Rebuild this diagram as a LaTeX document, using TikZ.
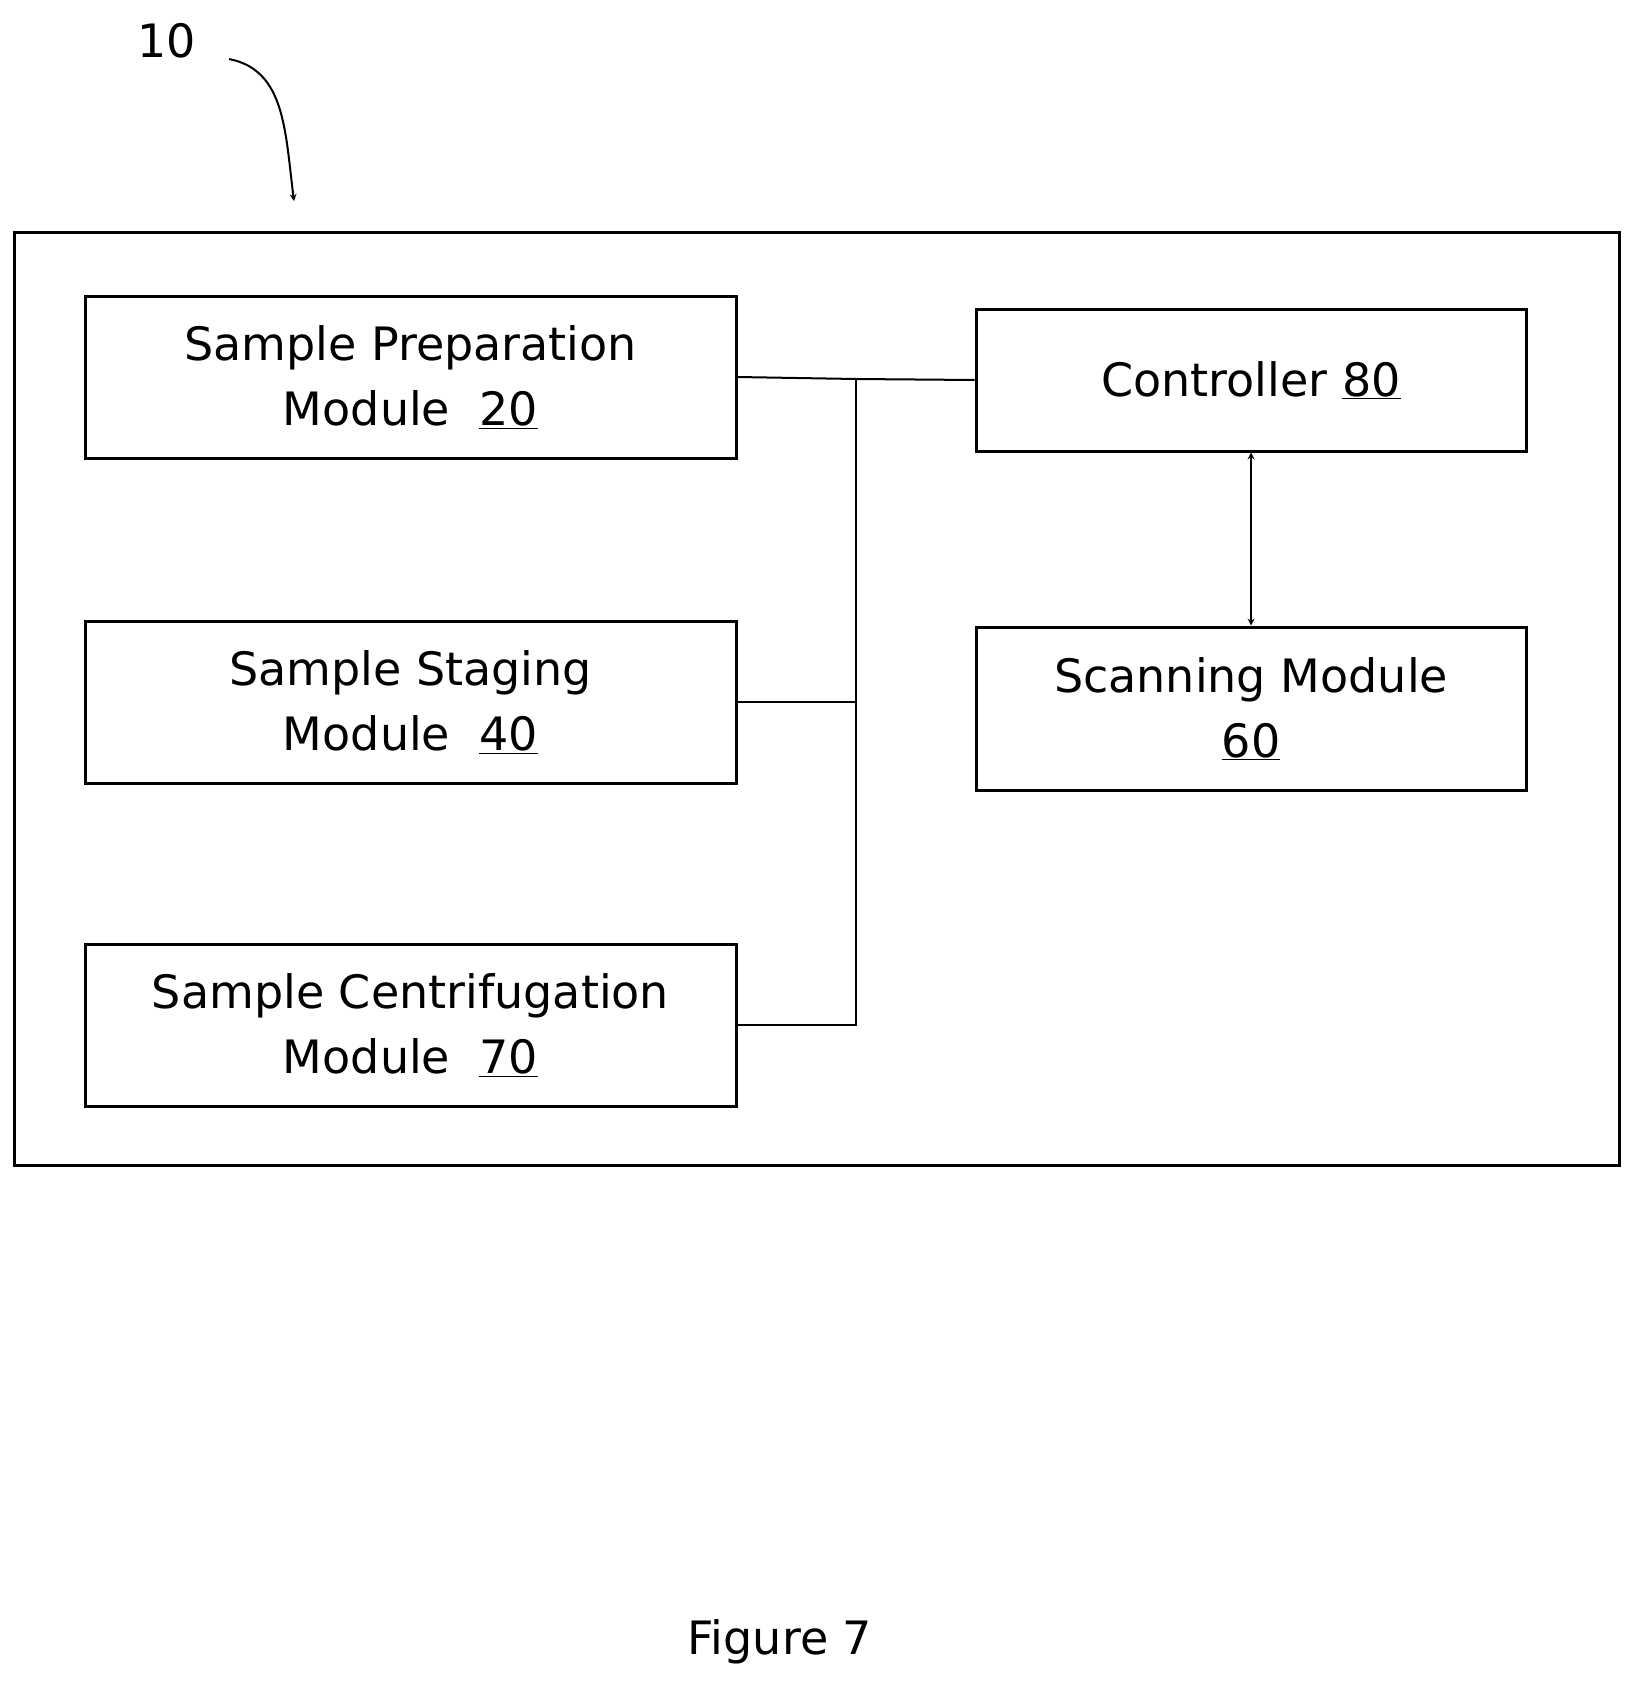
\documentclass[tikz,border=0pt]{standalone}
\usepackage{fontspec}
\setmainfont{DejaVu Sans}
\begin{document}
\begin{tikzpicture}[x=1pt,y=-1pt,
  box/.style={draw,line width=3pt,minimum width=651pt,minimum height=162pt,align=center,font=\fontsize{46}{65}\selectfont},
  rbox/.style={box,minimum width=550pt,minimum height=142pt},
  con/.style={line width=2pt}]
\useasboundingbox (0,0) rectangle (1637,1691);
\draw[line width=3pt] (14,232) rectangle (1619,1165);
\node[box] (m20) at (410.5,377) {Sample Preparation\\Module\ \ \underline{20}};
\node[box] (m40) at (410.5,702) {Sample Staging\\Module\ \ \underline{40}};
\node[box] (m70) at (410.5,1025) {Sample Centrifugation\\Module\ \ \underline{70}};
\node[rbox] (c80) at (1251,380) {Controller \underline{80}};
\node[rbox,minimum height=163pt] (s60) at (1251,708.5) {Scanning Module\\\underline{60}};
\coordinate (bt) at (856,379);
\draw[con] (m20.east) -- (bt) -- (c80.west);
\draw[con] (m40.east) -| (bt);
\draw[con] (m70.east) -| (bt);
\draw[con,<->,>={latex}, >=stealth] (c80.south) -- (s60.north);
\node[font=\fontsize{46}{55}\selectfont] (l10) at (167,41) {10};
\coordinate (a10) at (294,201);
\draw[con,-stealth] (229,59) .. controls (285,70) and (285,130) .. (a10);
\node[font=\fontsize{46}{55}\selectfont] (fig) at (780,1642) {Figure 7};
\end{tikzpicture}
\end{document}
